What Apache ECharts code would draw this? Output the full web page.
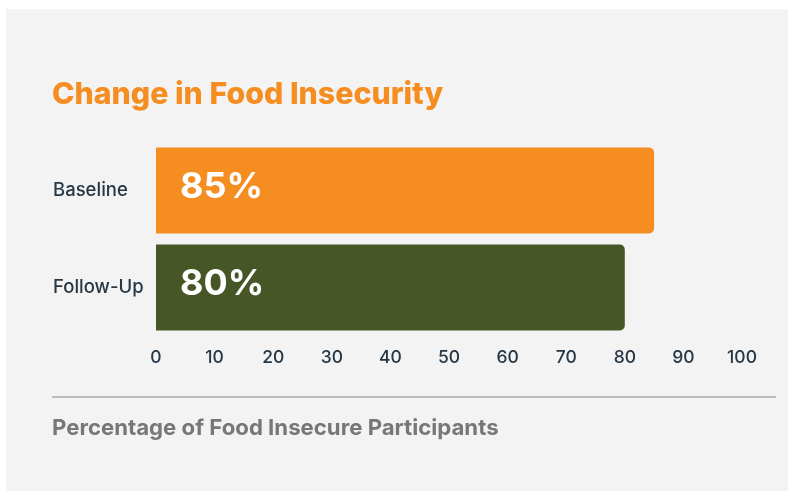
<!DOCTYPE html>
<html>
<head>
<meta charset="utf-8">
<script src="https://cdn.jsdelivr.net/npm/echarts@6/dist/echarts.min.js"></script>
<style>
html,body{margin:0;padding:0;background:#ffffff;}
#chart{width:794px;height:495px;}
</style>
</head>
<body>
<div id="chart"></div>
<script>
const categories = ['Baseline', 'Follow-Up'];
const values = [85, 80];
const barColors = ['#F58D20', '#465627'];
const tickMin = 0, tickMax = 100, tickStep = 10;
const titleText = 'Change in Food Insecurity';
const axisTitleText = 'Percentage of Food Insecure Participants';

const FONT = 'Inter, "Noto Sans", sans-serif';
const chart = echarts.init(document.getElementById('chart'), null, {renderer: 'canvas'});
chart.setOption({
  animation: false,
  backgroundColor: '#ffffff',
  graphic: [
    {type: 'rect', z: -10, shape: {x: 6, y: 9, width: 782, height: 482}, style: {fill: '#f3f3f3'}},
    {type: 'line', shape: {x1: 52, y1: 397, x2: 776, y2: 397}, style: {stroke: '#a9a9a9', lineWidth: 1.5}}
  ],
  title: [
    {text: titleText, left: 47, top: 75,
     textStyle: {fontFamily: FONT, fontWeight: 800, fontSize: 30.3, color: '#F58D20'}},
    {text: axisTitleText, left: 47, top: 412,
     textStyle: {fontFamily: FONT, fontWeight: 700, fontSize: 22.2, color: '#777777'}}
  ],
  grid: {left: 156, right: 52, top: 142, bottom: 159},
  xAxis: {
    type: 'value', min: tickMin, max: tickMax, interval: tickStep,
    axisLine: {show: false}, axisTick: {show: false}, splitLine: {show: false},
    axisLabel: {margin: 13, fontFamily: FONT, fontSize: 17.5, color: '#263746', fontWeight: 500}
  },
  yAxis: {
    type: 'category', data: categories, inverse: true,
    axisLine: {show: false}, axisTick: {show: false},
    axisLabel: {align: 'left', margin: 103, fontFamily: FONT, fontSize: 18.5, fontWeight: 500, color: '#263746', padding: [0,0,6,0]}
  },
  series: [{
    type: 'bar',
    barWidth: 86,
    data: values.map((v, i) => ({value: v, itemStyle: {color: barColors[i], borderRadius: [0, 5, 5, 0]}})),
    label: {
      show: true, position: 'insideLeft', distance: 24, offset: [0, -3],
      formatter: p => p.value + '%',
      fontFamily: FONT, fontWeight: 700, fontSize: 36, color: '#ffffff'
    }
  }]
});
</script>
</body>
</html>
